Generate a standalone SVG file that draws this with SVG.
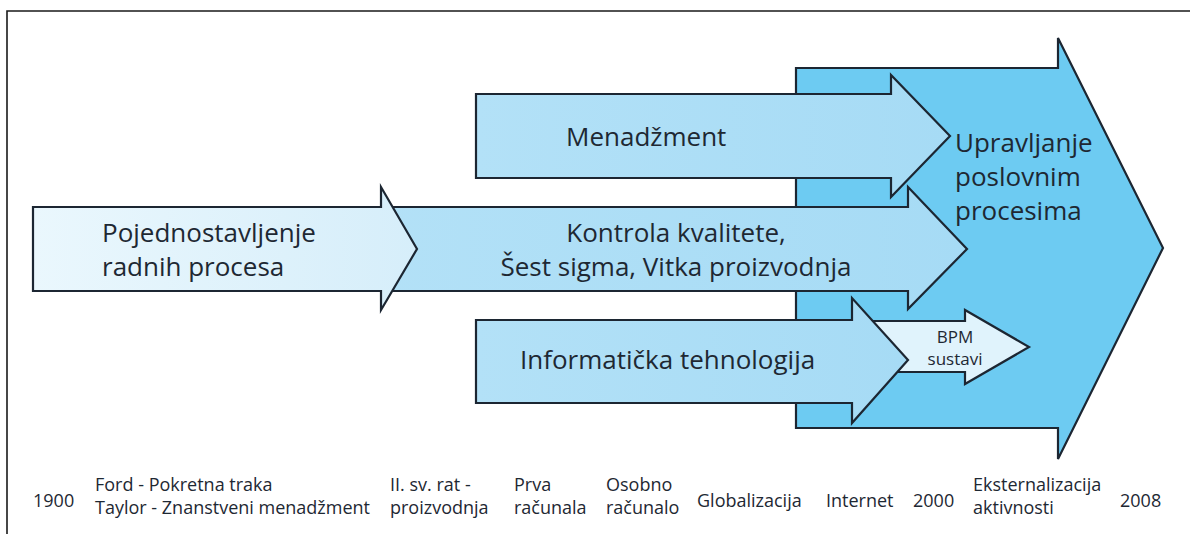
<svg xmlns="http://www.w3.org/2000/svg" width="1190" height="534" viewBox="0 0 1190 534">
<defs>
<linearGradient id="gLight" x1="0" y1="0" x2="1" y2="0">
<stop offset="0" stop-color="#eaf7fd"/>
<stop offset="1" stop-color="#d6eefa"/>
</linearGradient>
<linearGradient id="gMid" x1="0" y1="0" x2="1" y2="0">
<stop offset="0" stop-color="#b3e1f7"/>
<stop offset="1" stop-color="#a6dbf5"/>
</linearGradient>
<style>
.arrow{stroke:#1c2632;stroke-width:2.2;stroke-linejoin:miter}
.big{fill:#6dcbf2}
.mid{fill:url(#gMid)}
.light{fill:url(#gLight)}
.bpm{fill:#e0f3fc}
text{font-family:"Open Sans","Noto Sans","Liberation Sans",sans-serif;fill:#1e2833}
.lbl{font-size:26px}
.small{font-size:17px}
.tl{font-size:18px}
</style>
</defs>
<rect width="1190" height="534" fill="#ffffff"/>
<path d="M7 534 V11 H1190" fill="none" stroke="#1a1a1a" stroke-width="1.6"/>

<g id="upravljanje">
<path class="arrow big" d="M796 68 H1058 V38 L1163 248 L1058 459 V428 H796 Z"/>
<text class="lbl" x="955" y="152">Upravljanje</text>
<text class="lbl" x="955" y="186">poslovnim</text>
<text class="lbl" x="955" y="220">procesima</text>
</g>

<g id="menadzment">
<path class="arrow mid" d="M476 94 H891 V75 L950 136 L891 197 V178 H476 Z"/>
<text class="lbl" x="566" y="146">Menadžment</text>
</g>

<g id="kontrola">
<path class="arrow mid" d="M370 207 H908 V187 L967 249 L908 309 V291 H370 Z"/>
<text class="lbl" x="676" y="242" text-anchor="middle">Kontrola kvalitete,</text>
<text class="lbl" x="676" y="276" text-anchor="middle">Šest sigma, Vitka proizvodnja</text>
</g>

<g id="pojednostavljenje">
<path class="arrow light" d="M33 207 H381 V187 L417 249 L381 310 V291 H33 Z"/>
<text class="lbl" x="102" y="242">Pojednostavljenje</text>
<text class="lbl" x="102" y="276">radnih procesa</text>
</g>

<g id="bpm">
<path class="arrow bpm" d="M850 321 H965 V310 L1029 347 L965 384 V372 H850 Z"/>
<text class="small" x="955" y="343" text-anchor="middle">BPM</text>
<text class="small" x="955" y="365" text-anchor="middle">sustavi</text>
</g>

<g id="informaticka">
<path class="arrow mid" d="M476 320 H852 V298 L908 360 L852 423 V403 H476 Z"/>
<text class="lbl" x="520" y="369">Informatička tehnologija</text>
</g>

<g id="connectors"></g>

<g id="timeline">
<text class="tl" x="33" y="507">1900</text>
<text class="tl" x="95" y="491">Ford - Pokretna traka</text>
<text class="tl" x="95" y="514">Taylor - Znanstveni menadžment</text>
<text class="tl" x="390" y="491">II. sv. rat -</text>
<text class="tl" x="390" y="514">proizvodnja</text>
<text class="tl" x="514" y="491">Prva</text>
<text class="tl" x="514" y="514">računala</text>
<text class="tl" x="606" y="491">Osobno</text>
<text class="tl" x="606" y="514">računalo</text>
<text class="tl" x="697" y="507">Globalizacija</text>
<text class="tl" x="826" y="507">Internet</text>
<text class="tl" x="913" y="507">2000</text>
<text class="tl" x="973" y="491">Eksternalizacija</text>
<text class="tl" x="973" y="514">aktivnosti</text>
<text class="tl" x="1120" y="507">2008</text>
</g>
</svg>
